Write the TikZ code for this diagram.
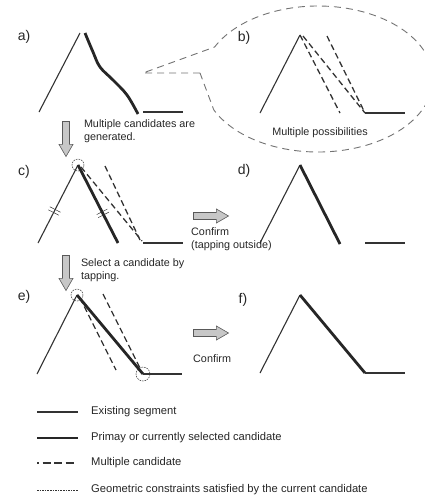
\documentclass[tikz,border=0pt]{standalone}
\usepackage{fontspec}
\setmainfont{Liberation Sans}
\usetikzlibrary{positioning,shapes.arrows,decorations.markings}

\begin{document}
\begin{tikzpicture}[
    x=1pt, y=-1pt,
    font=\fontsize{10.8}{13}\selectfont,
    every node/.style={text=black!85},
    existing/.style={line width=1.1pt,draw=black!80},
    primary/.style={line width=2.8pt,draw=black!85},
    cand/.style={line width=1.3pt,draw=black!80,dash pattern=on 6pt off 3.5pt},
    constr/.style={line width=0.5pt,draw=black!80,dash pattern=on 1.6pt off 1pt},
    bubble/.style={line width=0.9pt,draw=black!55,dash pattern=on 7pt off 5pt},
    tag/.style={font=\fontsize{14}{16}\selectfont},
    note/.style={align=left,inner sep=0pt},
    blockarrow/.style={single arrow,draw=black!65,fill=black!22,line width=0.6pt,
      minimum height=35pt,inner sep=3.2pt,single arrow head extend=3.5pt,
      single arrow tip angle=60},
    ticks/.style={postaction={decorate,decoration={markings,
      mark=at position #1 with {\draw[line width=0.5pt,black!80,solid] (-1.7pt,-6pt) -- (-1.7pt,6pt) (1.7pt,-6pt) -- (1.7pt,6pt);}}}}]
  \useasboundingbox (0,0) rectangle (425,496);

  % a) stroke as drawn
  \node[tag] (la) at (24,37) {a)};
  \begin{scope}[shift={(80,33)}]
    \draw[existing] (-41,79) -- (0,0);
    \draw[primary] plot[smooth,tension=0.6] coordinates {(5,0) (13,19) (20,34) (33,47) (47,62) (58,81)};
    \draw[existing] (63,79) -- (103,79);
    \coordinate (tip) at (63,40);
  \end{scope}

  % b) callout
  \coordinate (bub) at (318,79);
  \coordinate (kink) at (200,73);
  \draw[bubble] (kink) -- (tip) -- ([shift={(-154:115 and 73)}]bub)
    arc[start angle=-154,end angle=155,x radius=115,y radius=73] -- (kink);
  \node[tag] (lb) at (244,38) {b)};
  \node (poss) at (320,133) {Multiple possibilities};
  \begin{scope}[shift={(300,35)}]
    \draw[existing] (-40,78) -- (0,0);
    \draw[existing] (65,78) -- (105,78);
    \draw[cand] (0,0) -- (40,78);
    \draw[cand] (3,1) -- (65,78);
    \draw[cand] (27,1) -- (64,76);
  \end{scope}

  % c)
  \node[tag] (lc) at (24,172) {c)};
  \begin{scope}[shift={(78,165)}]
    \draw[existing,ticks=0.41] (-40,78) -- (0,0);
    \draw[primary,ticks=0.62] (0,0) -- (40,78);
    \draw[cand] (3,2) -- (64,76);
    \draw[cand] (27,1) -- (62,75);
    \draw[existing] (65,78) -- (105,78);
    \draw[constr] (0,0) circle[radius=6];
  \end{scope}

  % d)
  \node[tag] (ld) at (244,171) {d)};
  \begin{scope}[shift={(300,165)}]
    \draw[existing] (-40,78) -- (0,0);
    \draw[primary] (0,0) -- (40,79);
    \draw[existing] (65,78) -- (105,78);
  \end{scope}

  % e)
  \node[tag] (le) at (24,297) {e)};
  \begin{scope}[shift={(77,295)}]
    \draw[existing] (-40,79) -- (0,0);
    \draw[cand] (3,3) -- (39,75);
    \draw[cand] (26,-1) -- (64,75);
    \draw[primary] (0,0) -- (66,79);
    \draw[existing] (66,79) -- (105,79);
    \draw[constr] (0,0) circle[radius=6];
    \draw[constr] (66,79) circle[radius=7];
  \end{scope}

  % f)
  \node[tag] (lf) at (243,300) {f)};
  \begin{scope}[shift={(300,295)}]
    \draw[existing] (-40,78) -- (0,0);
    \draw[primary] (0,0) -- (65,78);
    \draw[existing] (65,78) -- (105,78);
  \end{scope}

  % steps
  \node[blockarrow,shape border rotate=270] (down1) at (66,136) {};
  \node[note,right=14pt of down1,yshift=5pt] (gen) {Multiple candidates are\\generated.};
  \node[blockarrow,shape border rotate=270] (down2) at (66,270) {};
  \node[note,right=11pt of down2] (sel) {Select a candidate by\\tapping.};
  \node[blockarrow] (conf1) at (208,216) {};
  \node[note,anchor=north west] (out) at (191,227) {Confirm\\(tapping outside)};
  \node[blockarrow] (conf2) at (208,333) {};
  \node[note,anchor=north west] (ok) at (193,354) {Confirm};

  % legend
  \begin{scope}[font=\fontsize{11.2}{13}\selectfont]
  \node[note,anchor=west] (leg1) at (91,412) {Existing segment};
  \node[note,anchor=west] (leg2) at (91,438) {Primay or currently selected candidate};
  \node[note,anchor=west] (leg3) at (91,463) {Multiple candidate};
  \node[note,anchor=west] (leg4) at (91,490) {Geometric constraints satisfied by the current candidate};
  \end{scope}
  \draw[existing] ([xshift=-54pt]leg1.west) -- ([xshift=-13pt]leg1.west);
  \draw[primary] ([xshift=-54pt]leg2.west) -- ([xshift=-13pt]leg2.west);
  \draw[cand,dash pattern=on 1.5pt off 4pt on 8pt off 3.5pt on 8pt off 3.5pt on 8pt off 9pt]
    ([xshift=-54pt]leg3.west) -- ([xshift=-13pt]leg3.west);
  \draw[constr] ([xshift=-54pt]leg4.west) -- ([xshift=-13pt]leg4.west);
\end{tikzpicture}
\end{document}
